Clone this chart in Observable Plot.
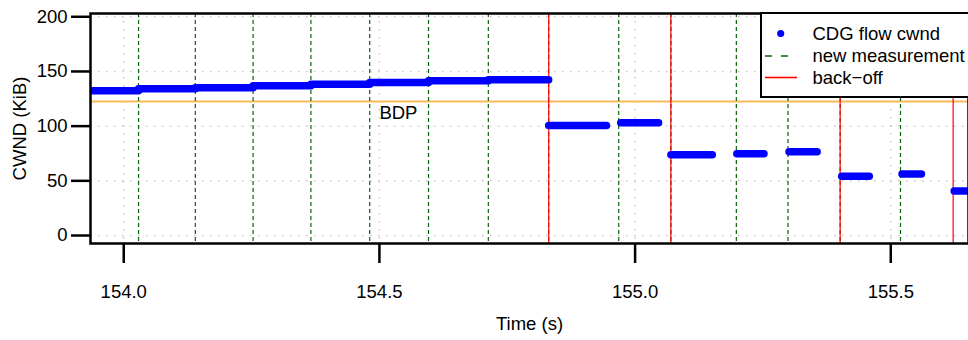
<!DOCTYPE html>
<html>
<head>
<meta charset="utf-8">
<script src="https://cdn.jsdelivr.net/npm/d3@7"></script>
<script src="https://cdn.jsdelivr.net/npm/@observablehq/plot@0.6"></script>
<style>
  html, body { margin: 0; padding: 0; background: #fff; }
  svg { font-family: "Liberation Sans", Arial, Helvetica, sans-serif; }
</style>
</head>
<body>
<div id="chart"></div>
<script>
// ---- data ----
const xTicks = [154.0, 154.5, 155.0, 155.5];
const yTicks = [0, 50, 100, 150, 200];
const bdp = 122.6;
const measurementTimes = [154.029, 154.140, 154.253, 154.366, 154.481, 154.596, 154.713, 154.831, 154.968, 155.070, 155.198, 155.299, 155.401, 155.519];
const backoffTimes = [154.831, 155.070, 155.401, 155.622];
const segStart = [153.93, 154.029, 154.140, 154.253, 154.366, 154.481, 154.596, 154.713, 154.831, 154.972, 155.070, 155.199, 155.301, 155.404, 155.522, 155.624];
const segEnd   = [154.029, 154.140, 154.253, 154.366, 154.481, 154.596, 154.713, 154.831, 154.944, 155.046, 155.151, 155.252, 155.356, 155.458, 155.560, 155.70];
const segCwnd  = [132.4, 134.2, 135.1, 136.9, 138.2, 140.0, 141.5, 142.4, 100.6, 103.1, 73.8, 74.7, 76.6, 54.3, 56.2, 40.6];
const legendLabels = ["CDG flow cwnd", "new measurement", "back\u2212off"];

const segments = segCwnd.map((v, i) => ({x1: segStart[i], x2: segEnd[i], y: v}));
const font = 18.5;

const chart = Plot.plot({
  width: 968,
  height: 340,
  marginLeft: 90,
  marginRight: 0,
  marginTop: 13,
  marginBottom: 97,
  style: {fontFamily: '"Liberation Sans", Arial, sans-serif', fontSize: "18.5px", color: "#000", background: "#fff"},
  x: {domain: [153.935, 155.652]},
  y: {domain: [-7.3, 203]},
  marks: [
    Plot.ruleX(xTicks, {stroke: "#c8c8c8", strokeWidth: 1.5, strokeDasharray: "1.5,6.5"}),
    Plot.ruleY(yTicks, {stroke: "#c8c8c8", strokeWidth: 1.5, strokeDasharray: "1.5,6.5"}),
    Plot.ruleY([bdp], {stroke: "#f7b95c", strokeWidth: 2}),
    Plot.ruleX(measurementTimes, {stroke: "#0b640b", strokeWidth: 1.2, strokeDasharray: "4,3"}),
    Plot.ruleX(backoffTimes, {stroke: "#ff0000", strokeWidth: 1.4, strokeOpacity: 0.85}),
    Plot.link(segments, {x1: "x1", x2: "x2", y1: "y", y2: "y", stroke: "#0000ff", strokeWidth: 7.5, strokeLinecap: "round", clip: true}),
    Plot.text(["BDP"], {x: xTicks[1], y: 111.5, text: d => d, textAnchor: "start", fontSize: font, fill: "#000"}),
    Plot.frame({stroke: "#000", strokeWidth: 2.5}),
    Plot.axisY({ticks: yTicks, tickSize: 19, tickPadding: 4, fontSize: font, strokeWidth: 2.5, label: "CWND (KiB)", labelAnchor: "center", labelArrow: "none", labelOffset: 78}),
    Plot.axisX({ticks: xTicks, tickFormat: d3.format(".1f"), tickSize: 20, tickPadding: 21, fontSize: font, strokeWidth: 2.5, label: "Time (s)", labelAnchor: "center", labelArrow: "none", labelOffset: 86})
  ]
});
document.getElementById("chart").appendChild(chart);

// legend box drawn into the plot's svg (top-right corner)
const svg = d3.select(chart);
const g = svg.append("g").attr("font-size", font).attr("text-anchor", "start")
  .attr("font-family", '"Liberation Sans", Arial, sans-serif');
g.append("rect").attr("x", 761).attr("y", 13).attr("width", 230).attr("height", 84)
  .attr("fill", "#fff").attr("stroke", "#000").attr("stroke-width", 2);
const rowY = [33.5, 56, 77.5];
g.append("circle").attr("cx", 780.7).attr("cy", rowY[0]).attr("r", 3.6).attr("fill", "#0000ff");
g.append("line").attr("x1", 765).attr("x2", 788).attr("y1", rowY[1]).attr("y2", rowY[1])
  .attr("stroke", "#0b640b").attr("stroke-width", 1.6).attr("stroke-dasharray", "7,9");
g.append("line").attr("x1", 765).attr("x2", 797).attr("y1", rowY[2]).attr("y2", rowY[2])
  .attr("stroke", "#ff0000").attr("stroke-width", 1.6);
legendLabels.forEach((t, i) => {
  g.append("text").attr("x", 812.5).attr("y", rowY[i]).attr("dy", "0.35em")
    .attr("text-anchor", "start").attr("fill", "#000").text(t);
});
</script>
</body>
</html>
